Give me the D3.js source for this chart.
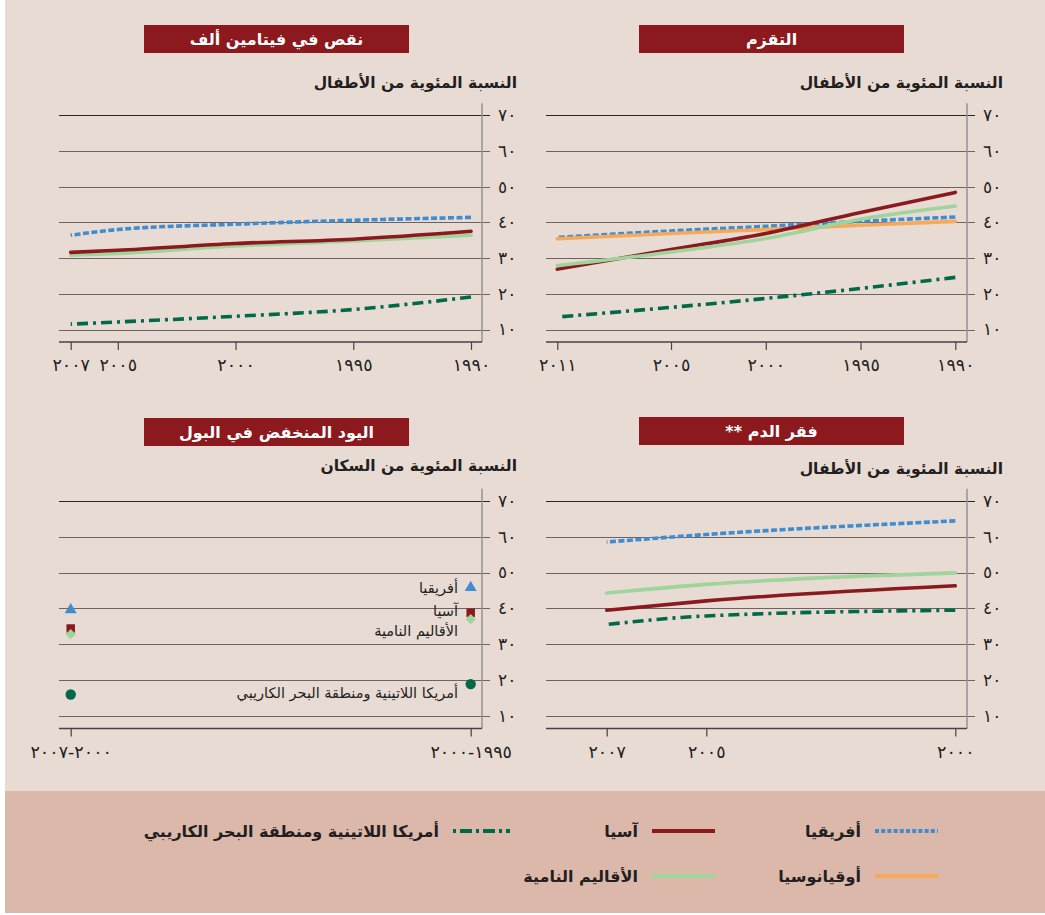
<!DOCTYPE html>
<html><head><meta charset="utf-8">
<script src="https://cdn.jsdelivr.net/npm/d3@7"></script>
<style>
html,body{margin:0;padding:0;background:#fff;}
text{font-family:"DejaVu Sans","Noto Sans",sans-serif;}
</style></head>
<body><svg id="c" width="1045" height="915"></svg>
<script>
// ---------- DATA ----------
const yTicks = [10, 20, 30, 40, 50, 60, 70];

const vitAYears = [1990, 1995, 2000, 2005, 2007];
const vitATicks = [1990, 1995, 2000, 2005, 2007];
const vitAAfrica = [41.4, 40.6, 39.5, 38.0, 36.4];
const vitAAsia = [37.5, 35.3, 34.1, 32.2, 31.6];
const vitADeveloping = [36.4, 34.8, 33.4, 31.3, 30.8];
const vitALatAm = [19.1, 15.6, 13.7, 12.1, 11.5];

const stuntYears = [1990, 1995, 2000, 2005, 2011];
const stuntTicks = [1990, 1995, 2000, 2005, 2011];
const stuntAfrica = [41.5, 40.3, 38.9, 37.6, 35.8];
const stuntOceania = [40.3, 39.2, 38.0, 36.9, 35.4];
const stuntAsia = [48.4, 42.8, 36.9, 32.4, 26.9];
const stuntDeveloping = [44.6, 40.9, 35.5, 31.7, 27.9];
const stuntLatAm = [24.6, 21.5, 18.7, 16.2, 13.5];

const anemiaYears = [2000, 2005, 2007];
const anemiaTicks = [2000, 2005, 2007];
const anemiaAfrica = [64.4, 60.6, 58.5];
const anemiaDeveloping = [49.9, 46.7, 44.3];
const anemiaAsia = [46.3, 42.1, 39.5];
const anemiaLatAm = [39.5, 37.9, 35.5];

const iodinePeriods = ["١٩٩٥-٢٠٠٠", "٢٠٠٠-٢٠٠٧"];
const iodineAfrica = [45.8, 39.6];
const iodineAsia = [38.8, 34.4];
const iodineDeveloping = [37.0, 32.8];
const iodineLatAm = [18.9, 16.0];

const titles = ["التقزم", "نقص في فيتامين ألف", "فقر الدم **", "اليود المنخفض في البول"];
const subtitles = ["النسبة المئوية من الأطفال", "النسبة المئوية من الأطفال", "النسبة المئوية من الأطفال", "النسبة المئوية من السكان"];
const regionNames = ["أفريقيا", "آسيا", "أمريكا اللاتينية ومنطقة البحر الكاريبي", "أوقيانوسيا", "الأقاليم النامية"];

// ---------- STYLE ----------
const C = {
  africa: "#3f8dd0", asia: "#8b1a1e", latam: "#006a48",
  oceania: "#f5a95b", developing: "#9fd49a"
};
const DASH = {
  africa: "6,2.5", asia: null, latam: "11,5,3,5", oceania: null, developing: null
};
const toAr = v => String(v).replace(/\d/g, c => "٠١٢٣٤٥٦٧٨٩"[+c]);

const svg = d3.select("#c");
svg.append("rect").attr("x", 5).attr("y", 0).attr("width", 1040).attr("height", 791).attr("fill", "#e8dbd4");
svg.append("rect").attr("x", 5).attr("y", 791).attr("width", 1040).attr("height", 122).attr("fill", "#dcb8ab");

function panel(opt) {
  const g = svg.append("g");
  g.append("rect").attr("x", opt.boxX).attr("y", opt.boxY).attr("width", 265).attr("height", 28).attr("fill", "#8b191e");
  g.append("text").attr("x", opt.boxX + 132.5).attr("y", opt.boxY + 20).attr("text-anchor", "middle")
    .attr("direction", "rtl").attr("fill", "#fff").attr("font-size", 16).attr("font-weight", "bold").text(opt.title);
  g.append("text").attr("x", opt.subX).attr("y", opt.subY).attr("text-anchor", "end")
    .attr("fill", "#231f20").attr("font-size", 15.5).attr("font-weight", "bold").text(opt.subtitle);

  const y = d3.scaleLinear().domain([10, 70]).range(opt.yRange);
  g.selectAll(".grid").data(yTicks).join("line")
    .attr("x1", opt.left).attr("x2", opt.axisX + 8)
    .attr("y1", d => Math.round(y(d)) + 0.5).attr("y2", d => Math.round(y(d)) + 0.5)
    .attr("stroke", d => d === 70 ? "#2a2424" : "#6d6363").attr("stroke-width", 1);
  g.append("line").attr("x1", opt.axisX).attr("x2", opt.axisX).attr("y1", opt.yRange[1] - 12).attr("y2", opt.baseY)
    .attr("stroke", "#9a9090").attr("stroke-width", 1.5);
  const ya = g.append("g").attr("transform", `translate(${opt.axisX},0)`)
    .call(d3.axisRight(y).tickValues(yTicks).tickSize(0).tickPadding(16).tickFormat(toAr));
  ya.select(".domain").remove();
  ya.selectAll("text").attr("font-size", 17).attr("fill", "#231f20").attr("font-family", "DejaVu Sans");
  g.append("line").attr("x1", opt.left).attr("x2", opt.axisX).attr("y1", opt.baseY).attr("y2", opt.baseY)
    .attr("stroke", "#4a4242").attr("stroke-width", 1.5);
  const xa = g.append("g").attr("transform", `translate(0,${opt.baseY})`)
    .call(d3.axisBottom(opt.x).tickValues(opt.xTicks).tickSize(8).tickPadding(9).tickFormat(opt.fmt || toAr));
  xa.select(".domain").remove();
  xa.selectAll("line").attr("stroke", "#4a4242").attr("stroke-width", 1.2);
  xa.selectAll("text").attr("font-size", 17.5).attr("fill", "#231f20").attr("font-family", "DejaVu Sans");
  return {g, y};
}

function drawLines(g, x, y, years, series) {
  const line = d3.line().x(d => x(d[0])).y(d => y(d[1])).curve(d3.curveMonotoneX);
  series.forEach(s => {
    const pts = years.map((yr, i) => [yr, s.values[i]]);
    g.append("path").attr("d", line(pts)).attr("fill", "none")
      .attr("stroke", C[s.key]).attr("stroke-width", 3.6)
      .attr("stroke-dasharray", DASH[s.key])
      .attr("stroke-linecap", s.key === "africa" || s.key === "latam" ? "butt" : "round");
  });
}

// ---- Top-right: Stunting ----
{
  const x = d3.scaleLinear().domain([1990, 2011]).range([955.3, 557.3]);
  const p = panel({boxX: 639, boxY: 25, title: titles[0], subtitle: subtitles[0], subX: 1003, subY: 88,
    yRange: [329.5, 115.3], left: 546, axisX: 967, baseY: 342, x, xTicks: stuntTicks});
  drawLines(p.g, x, p.y, stuntYears, [
    {key: "latam", values: stuntLatAm},
    {key: "africa", values: stuntAfrica},
    {key: "oceania", values: stuntOceania},
    {key: "asia", values: stuntAsia},
    {key: "developing", values: stuntDeveloping}
  ]);
}
// ---- Top-left: Vitamin A ----
{
  const x = d3.scaleLinear().domain([1990, 2007]).range([471, 70.7]);
  const p = panel({boxX: 144, boxY: 25, title: titles[1], subtitle: subtitles[1], subX: 517, subY: 88,
    yRange: [329.5, 115.3], left: 59, axisX: 482, baseY: 342, x, xTicks: vitATicks});
  drawLines(p.g, x, p.y, vitAYears, [
    {key: "latam", values: vitALatAm},
    {key: "africa", values: vitAAfrica},
    {key: "developing", values: vitADeveloping},
    {key: "asia", values: vitAAsia}
  ]);
}
// ---- Bottom-right: Anemia ----
{
  const x = d3.scaleLinear().domain([2000, 2007]).range([955.3, 606.7]);
  const p = panel({boxX: 639, boxY: 417, title: titles[2], subtitle: subtitles[2], subX: 1003, subY: 474,
    yRange: [716, 500.8], left: 546, axisX: 967, baseY: 728.5, x, xTicks: anemiaTicks});
  drawLines(p.g, x, p.y, anemiaYears, [
    {key: "latam", values: anemiaLatAm},
    {key: "africa", values: anemiaAfrica},
    {key: "developing", values: anemiaDeveloping},
    {key: "asia", values: anemiaAsia}
  ]);
}
// ---- Bottom-left: Iodine ----
{
  const x = d3.scalePoint().domain(iodinePeriods).range([470.7, 70.7]);
  const p = panel({boxX: 144, boxY: 418, title: titles[3], subtitle: subtitles[3], subX: 517, subY: 471,
    yRange: [716, 500.8], left: 59, axisX: 482, baseY: 728.5, x, xTicks: iodinePeriods, fmt: d => d});
  const g = p.g, y = p.y;
  const sym = (type, size) => d3.symbol().type(type).size(size)();
  iodinePeriods.forEach((per, i) => {
    g.append("path").attr("d", sym(d3.symbolTriangle, 62)).attr("fill", C.africa)
      .attr("transform", `translate(${x(per)},${y(iodineAfrica[i])})`);
    g.append("path").attr("d", sym(d3.symbolSquare, 72)).attr("fill", C.asia)
      .attr("transform", `translate(${x(per)},${y(iodineAsia[i])})`);
    g.append("path").attr("d", sym(d3.symbolSquare, 52)).attr("fill", C.developing)
      .attr("transform", `translate(${x(per)},${y(iodineDeveloping[i])}) rotate(45)`);
    g.append("circle").attr("r", 5.2).attr("fill", C.latam)
      .attr("cx", x(per)).attr("cy", y(iodineLatAm[i]));
  });
  const lx = 458;
  const lbl = (t, yy) => g.append("text").attr("x", lx).attr("y", yy).attr("text-anchor", "end")
    .attr("font-size", 14.5).attr("fill", "#231f20").text(t);
  lbl(regionNames[0], y(iodineAfrica[0]) + 5);
  lbl(regionNames[1], y(iodineAsia[0]) + 3);
  lbl(regionNames[4], y(iodineDeveloping[0]) + 17);
  lbl(regionNames[2], y(iodineLatAm[0]) + 14);
}

// ---------- LEGEND ----------
const legendItems = [
  {key: "africa", name: regionNames[0], x: 875, y: 831},
  {key: "asia", name: regionNames[1], x: 652, y: 831},
  {key: "latam", name: regionNames[2], x: 453, y: 831},
  {key: "oceania", name: regionNames[3], x: 875, y: 876},
  {key: "developing", name: regionNames[4], x: 652, y: 876}
];
const lg = svg.append("g");
legendItems.forEach(it => {
  const w = it.key === "latam" ? 57 : 63;
  lg.append("line").attr("x1", it.x).attr("x2", it.x + w).attr("y1", it.y).attr("y2", it.y)
    .attr("stroke", C[it.key]).attr("stroke-width", 4)
    .attr("stroke-dasharray", it.key === "africa" ? "4,2.2" : (it.key === "latam" ? "3,4,12,4" : null));
  lg.append("text").attr("x", it.x - 14).attr("y", it.y + 6).attr("text-anchor", "end")
    .attr("font-size", 16).attr("font-weight", "bold").attr("fill", "#231f20").text(it.name);
});
</script></body></html>
